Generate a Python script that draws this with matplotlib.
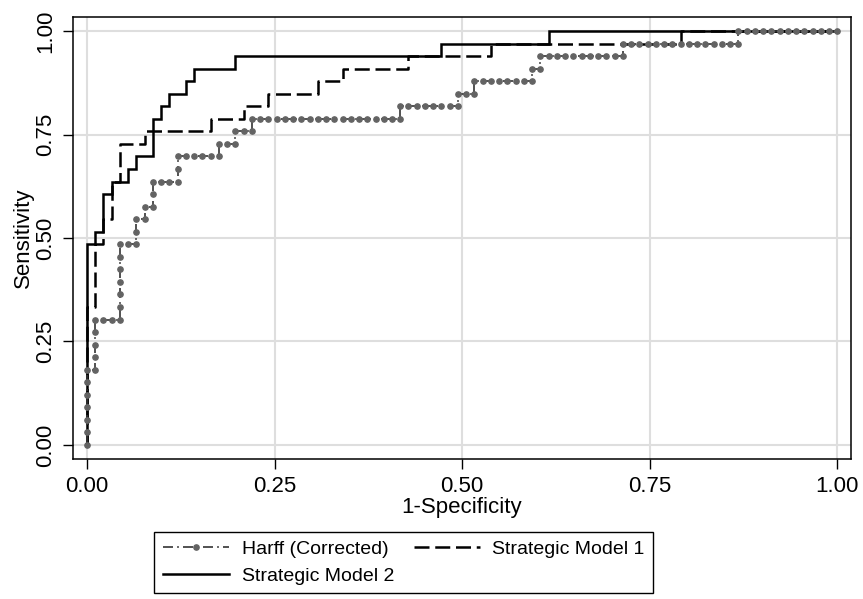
import matplotlib.pyplot as plt
import numpy as np

plt.rcParams['font.family'] = ['Liberation Sans', 'DejaVu Sans']

n_pos = 33
n_neg = 91

# cases sorted by score, as run lengths:
# even entries = positives (step up), odd entries = negatives (step right)
harff_runs = [6, 1, 4, 3, 6, 2, 2, 1, 1, 1, 2, 3, 2, 5, 1, 2, 1, 2, 1, 18,
              1, 7, 1, 2, 1, 7, 1, 1, 1, 10, 1, 14, 1, 12]
model1_runs = [11, 1, 5, 1, 2, 1, 3, 1, 3, 3, 1, 8, 1, 4, 1, 3, 1, 6, 1, 3,
               1, 8, 1, 10, 1, 23, 1, 19]
model2_runs = [16, 1, 1, 1, 3, 1, 1, 2, 1, 1, 1, 2, 3, 1, 1, 1, 1, 2, 1, 1,
               1, 5, 1, 25, 1, 13, 1, 35]

labels = ["Harff (Corrected)", "Strategic Model 1", "Strategic Model 2"]
ticks = [0, 0.25, 0.5, 0.75, 1.0]


def roc_points(runs):
    is_pos = []
    for i, r in enumerate(runs):
        is_pos += [i % 2 == 0] * r
    is_pos = np.array(is_pos)
    tp = np.concatenate([[0], np.cumsum(is_pos)])
    fp = np.concatenate([[0], np.cumsum(~is_pos)])
    return fp / n_neg, tp / n_pos


fig = plt.figure(figsize=(8.63, 5.99), dpi=100)
ax = fig.add_axes([0.0842, 0.2337, 0.9016, 0.7379])

x, y = roc_points(model2_runs)
l2, = ax.plot(x, y, color='black', lw=1.8, solid_joinstyle='miter', zorder=3)
x, y = roc_points(model1_runs)
l1, = ax.plot(x, y, color='black', lw=1.8, linestyle=(0, (6, 2.3)), zorder=4)
x, y = roc_points(harff_runs)
lh, = ax.plot(x, y, color='#333333', lw=1.2, linestyle=(0, (6, 2.5, 1, 2.5)),
              marker='o', markersize=3.8, markerfacecolor='#636363',
              markeredgecolor='#636363', zorder=5)

ax.set_xlim(-0.019, 1.018)
ax.set_ylim(-0.034, 1.034)
ax.set_xticks(ticks)
ax.set_yticks(ticks)
ax.set_xticklabels([f"{t:.2f}" for t in ticks], fontsize=16)
ax.set_yticklabels([f"{t:.2f}" for t in ticks], fontsize=16,
                   rotation=90, va='center')
ax.tick_params(direction='out', length=7, width=1, pad=5)
ax.grid(True, color='#dedede', lw=1.5)
ax.set_axisbelow(True)
for s in ax.spines.values():
    s.set_linewidth(1.1)

ax.set_xlabel("1-Specificity", fontsize=16, labelpad=0)
ax.set_ylabel("Sensitivity", fontsize=16, labelpad=1)

leg = ax.legend([lh, l2, l1], [labels[0], labels[2], labels[1]], ncol=2,
                loc='upper center', bbox_to_anchor=(0.468, 0.112),
                bbox_transform=fig.transFigure, fontsize=14, frameon=True,
                fancybox=False, edgecolor='black', framealpha=1,
                handlelength=3.4, handletextpad=0.65, columnspacing=1.0,
                numpoints=1, borderpad=0.45, labelspacing=0.45, borderaxespad=0)
leg.get_frame().set_linewidth(1.0)

fig.savefig("out.png", dpi=100)
